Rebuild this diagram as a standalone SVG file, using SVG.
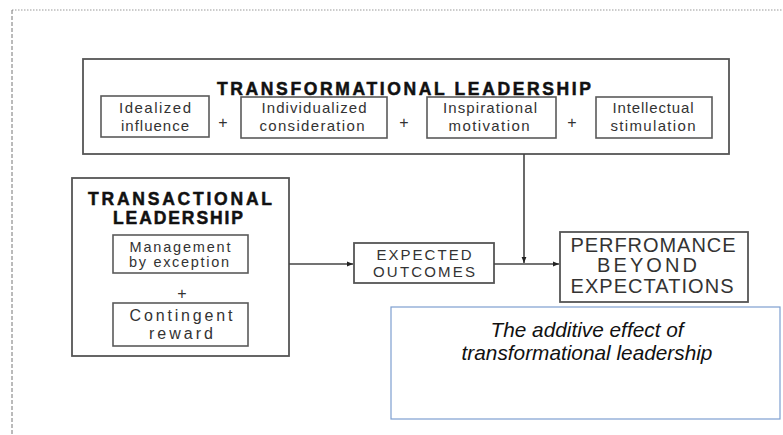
<svg xmlns="http://www.w3.org/2000/svg" width="783" height="435" viewBox="0 0 783 435">
<defs>
<style>
.box{fill:#fff;stroke:#555;stroke-width:1.8}
.sub{fill:#fff;stroke:#5a5a5a;stroke-width:1.6}
.ttl{font-family:"Liberation Sans",Arial,sans-serif;font-weight:bold;fill:#111;stroke:#111;stroke-width:0.5;text-anchor:middle}
.t{font-family:"Liberation Sans",Arial,sans-serif;fill:#333;text-anchor:middle}
.it{font-family:"Liberation Sans",Arial,sans-serif;font-style:italic;fill:#111;text-anchor:middle;font-size:20.8px}
.conn{stroke:#444;stroke-width:1.6;fill:none}
</style>
<marker id="ah" viewBox="0 0 10 10" refX="10" refY="5" markerWidth="6" markerHeight="6" markerUnits="userSpaceOnUse" orient="auto">
<path d="M0,1 L10,5 L0,9 z" fill="#222"/>
</marker>
</defs>
<rect width="783" height="435" fill="#fff"/>
<g id="page-border">
<line x1="12" y1="10" x2="783" y2="10" stroke="#999" stroke-width="1" stroke-dasharray="1.5,1.5"/>
<line x1="12" y1="10" x2="12" y2="435" stroke="#777" stroke-width="1" stroke-dasharray="4,2"/>
</g>
<g id="transformational">
<rect class="box" x="83" y="59" width="646" height="95"/>
<text class="ttl" x="404" y="95" font-size="17.5" textLength="374" lengthAdjust="spacing">TRANSFORMATIONAL LEADERSHIP</text>
<g id="idealized">
<rect class="sub" x="101" y="96" width="108" height="41"/>
<text class="t" font-size="15" x="155" y="113" textLength="72" lengthAdjust="spacing">Idealized</text>
<text class="t" font-size="15" x="155" y="131" textLength="68" lengthAdjust="spacing">influence</text>
</g>
<text class="t" font-size="16" x="223" y="128">+</text>
<g id="individualized">
<rect class="sub" x="241" y="97" width="146" height="41"/>
<text class="t" font-size="15" x="314" y="113" textLength="105" lengthAdjust="spacing">Individualized</text>
<text class="t" font-size="15" x="312" y="131" textLength="105" lengthAdjust="spacing">consideration</text>
</g>
<text class="t" font-size="16" x="404" y="128">+</text>
<g id="inspirational">
<rect class="sub" x="427" y="97" width="129" height="41"/>
<text class="t" font-size="15" x="490" y="113" textLength="94" lengthAdjust="spacing">Inspirational</text>
<text class="t" font-size="15" x="489" y="131" textLength="81" lengthAdjust="spacing">motivation</text>
</g>
<text class="t" font-size="16" x="572" y="128">+</text>
<g id="intellectual">
<rect class="sub" x="596" y="97" width="116" height="41"/>
<text class="t" font-size="15" x="653" y="113" textLength="81" lengthAdjust="spacing">Intellectual</text>
<text class="t" font-size="15" x="653" y="131" textLength="85" lengthAdjust="spacing">stimulation</text>
</g>
</g>
<g id="transactional">
<rect class="box" x="72" y="178" width="217" height="178"/>
<text class="ttl" x="180" y="205" font-size="17.5" textLength="184" lengthAdjust="spacing">TRANSACTIONAL</text>
<text class="ttl" x="178" y="224" font-size="17.5" textLength="130" lengthAdjust="spacing">LEADERSHIP</text>
<g id="management">
<rect class="sub" x="113" y="235" width="135" height="38"/>
<text class="t" font-size="14.5" x="180" y="252" textLength="101" lengthAdjust="spacing">Management</text>
<text class="t" font-size="14.5" x="179" y="267" textLength="100" lengthAdjust="spacing">by exception</text>
</g>
<text class="t" font-size="16" x="182" y="299">+</text>
<g id="contingent">
<rect class="sub" x="113" y="303" width="135" height="43"/>
<text class="t" font-size="16" x="181" y="321" textLength="103" lengthAdjust="spacing">Contingent</text>
<text class="t" font-size="16" x="181" y="339" textLength="64" lengthAdjust="spacing">reward</text>
</g>
</g>
<g id="expected">
<rect class="box" x="354" y="243" width="140" height="40"/>
<text class="t" font-size="15" x="424" y="260" textLength="95" lengthAdjust="spacing">EXPECTED</text>
<text class="t" font-size="15" x="424" y="277" textLength="102" lengthAdjust="spacing">OUTCOMES</text>
</g>
<g id="performance">
<rect class="box" x="560" y="232" width="188" height="70"/>
<text class="t" font-size="20" x="653" y="252" textLength="165" lengthAdjust="spacing">PERFROMANCE</text>
<text class="t" font-size="20" x="647" y="272" textLength="100" lengthAdjust="spacing">BEYOND</text>
<text class="t" font-size="20" x="652" y="293" textLength="163" lengthAdjust="spacing">EXPECTATIONS</text>
</g>
<g id="note">
<rect x="391" y="307" width="389" height="112" fill="#fff" stroke="#7e9fd0" stroke-width="1.2"/>
<text class="it" x="587" y="337">The additive effect of</text>
<text class="it" x="587" y="360">transformational leadership</text>
</g>
<g id="connectors">
<line class="conn" x1="289" y1="264" x2="353" y2="264" marker-end="url(#ah)"/>
<line class="conn" x1="494" y1="264" x2="559" y2="264" marker-end="url(#ah)"/>
<line class="conn" x1="524" y1="154" x2="524" y2="263" marker-end="url(#ah)"/>
</g>
</svg>
